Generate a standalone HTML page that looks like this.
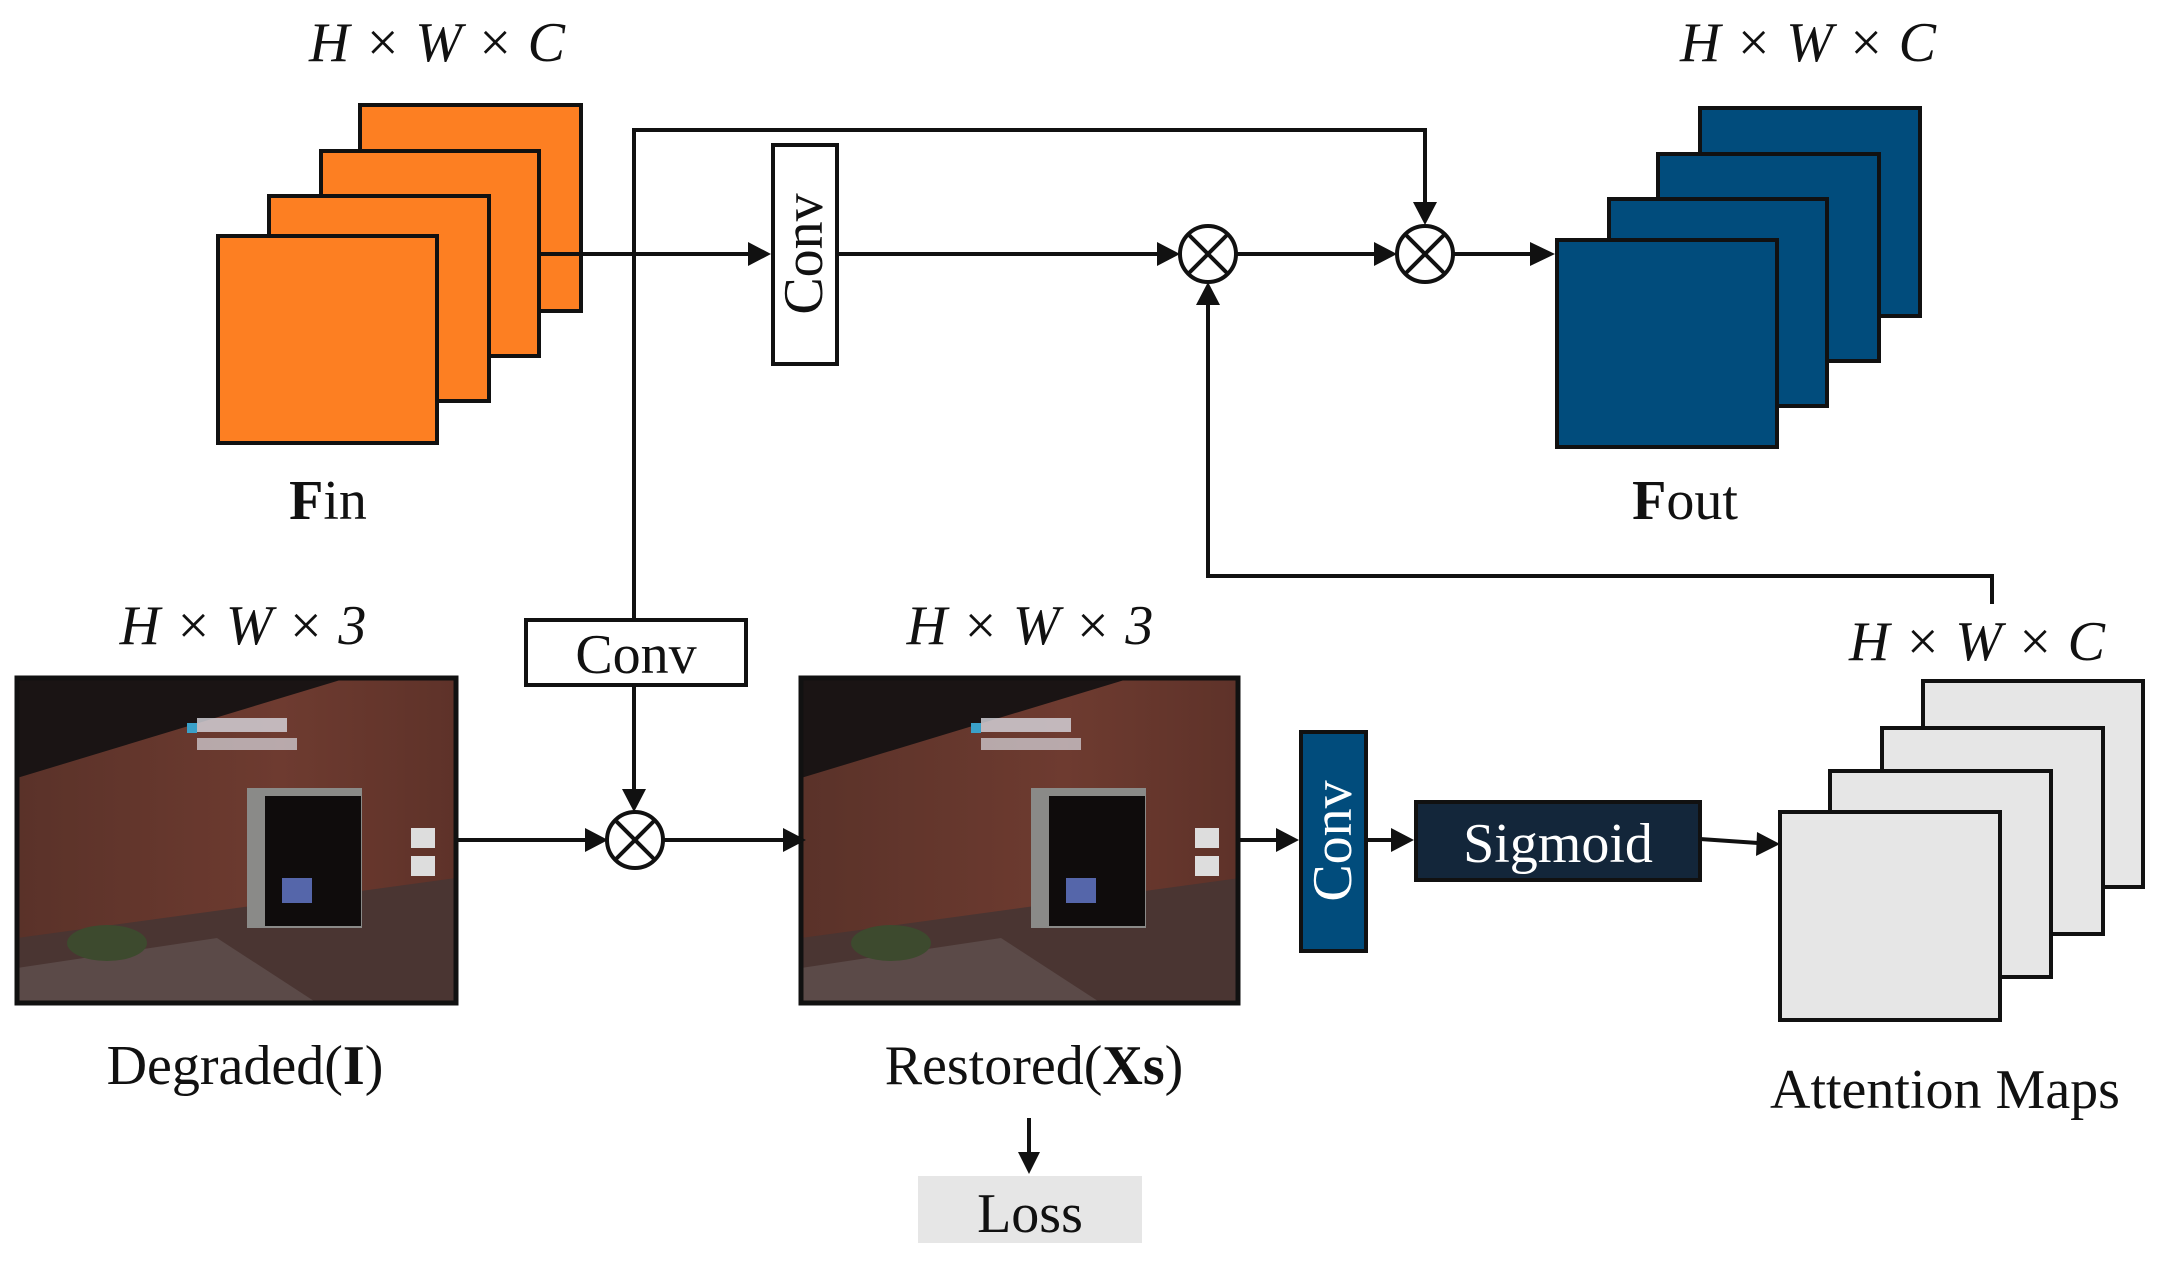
<!DOCTYPE html>
<html><head><meta charset="utf-8"><style>
html,body{margin:0;padding:0;background:#fff;}
svg{display:block;}
text{font-family:"Liberation Serif",serif;fill:#111;}
</style></head><body>
<svg width="2166" height="1262" viewBox="0 0 2166 1262" xmlns="http://www.w3.org/2000/svg">
<defs>
<marker id="ah" markerWidth="10" markerHeight="10" refX="9" refY="5" orient="auto" markerUnits="userSpaceOnUse" viewBox="0 0 10 10">
</marker>
<linearGradient id="wall" x1="0" y1="0" x2="1" y2="0">
<stop offset="0" stop-color="#5a3229"/><stop offset="0.6" stop-color="#6e3b30"/><stop offset="1" stop-color="#5e3229"/>
</linearGradient>
<g id="photo">
<rect x="0" y="0" width="439" height="325" fill="#1a1414"/>
<polygon points="0,100 330,0 439,0 439,325 0,325" fill="url(#wall)"/>
<polygon points="0,260 439,200 439,325 0,325" fill="#4a3532"/>
<polygon points="0,290 200,260 300,325 0,325" fill="#5b4a48"/>
<ellipse cx="90" cy="265" rx="40" ry="18" fill="#3d4a2e"/>
<rect x="230" y="110" width="115" height="140" fill="#8a8a88"/>
<rect x="248" y="118" width="96" height="130" fill="#0f0c0c"/>
<rect x="394" y="150" width="24" height="20" fill="#ddd"/>
<rect x="394" y="178" width="24" height="20" fill="#ddd"/>
<rect x="180" y="40" width="90" height="14" fill="#d8d8e0" opacity="0.8"/>
<rect x="180" y="60" width="100" height="12" fill="#d8d8e0" opacity="0.7"/>
<rect x="170" y="45" width="10" height="10" fill="#3aa0c8"/>
<rect x="265" y="200" width="30" height="25" fill="#5566aa"/>
</g>
</defs>

<g stroke="#111" stroke-width="4">
<!-- Fin orange stack -->
<rect x="360" y="105" width="221" height="206" fill="#fd7f22"/>
<rect x="321" y="151" width="218" height="205" fill="#fd7f22"/>
<rect x="269" y="196" width="220" height="205" fill="#fd7f22"/>
<rect x="218" y="236" width="219" height="207" fill="#fd7f22"/>
<!-- Fout blue stack -->
<rect x="1700" y="108" width="220" height="208" fill="#014c7c"/>
<rect x="1658" y="154" width="221" height="207" fill="#014c7c"/>
<rect x="1609" y="199" width="218" height="207" fill="#014c7c"/>
<rect x="1557" y="240" width="220" height="207" fill="#014c7c"/>
<!-- attention grey stack -->
<rect x="1923" y="681" width="220" height="206" fill="#e6e6e6"/>
<rect x="1882" y="728" width="221" height="206" fill="#e6e6e6"/>
<rect x="1830" y="771" width="221" height="206" fill="#e6e6e6"/>
<rect x="1780" y="812" width="220" height="208" fill="#e6e6e6"/>
</g>

<!-- photos -->
<g transform="translate(17,678)"><use href="#photo"/></g>
<rect x="17" y="678" width="439" height="325" fill="none" stroke="#111" stroke-width="5"/>
<g transform="translate(801,678)"><use href="#photo"/></g>
<rect x="801" y="678" width="437" height="325" fill="none" stroke="#111" stroke-width="5"/>

<!-- connectors -->
<g stroke="#111" stroke-width="4" fill="none">
<polyline points="634,618 634,130 1425,130 1425,205"/>
<line x1="539" y1="254" x2="750" y2="254"/>
<line x1="837" y1="254" x2="1158" y2="254"/>
<line x1="1236" y1="254" x2="1375" y2="254"/>
<line x1="1454" y1="254" x2="1530" y2="254"/>
<polyline points="1992,604 1992,576 1208,576 1208,302"/>
<line x1="634" y1="685" x2="634" y2="790"/>
<line x1="456" y1="840" x2="585" y2="840"/>
<line x1="663" y1="840" x2="785" y2="840"/>
<line x1="1238" y1="840" x2="1278" y2="840"/>
<line x1="1366" y1="840" x2="1394" y2="840"/>
<line x1="1700" y1="839" x2="1758" y2="843"/>
<line x1="1029" y1="1118" x2="1029" y2="1155"/>
</g>
<!-- arrowheads -->
<g fill="#111">
<polygon points="771,254 748,242 748,266"/>
<polygon points="1180,254 1157,242 1157,266"/>
<polygon points="1397,254 1374,242 1374,266"/>
<polygon points="1555,254 1530,242 1530,266"/>
<polygon points="1425,225 1413,202 1437,202"/>
<polygon points="1208,282 1196,305 1220,305"/>
<polygon points="634,812 622,789 646,789"/>
<polygon points="608,840 585,828 585,852"/>
<polygon points="806,840 783,828 783,852"/>
<polygon points="1299,840 1276,828 1276,852"/>
<polygon points="1414,840 1391,828 1391,852"/>
<polygon points="1780,844 1757,832 1756,856"/>
<polygon points="1029,1174 1018,1152 1040,1152"/>
</g>
<!-- multiply circles -->
<g stroke="#111" stroke-width="4" fill="#fff">
<circle cx="1208" cy="254" r="28"/>
<circle cx="1425" cy="254" r="28"/>
<circle cx="635" cy="840" r="28"/>
</g>
<g stroke="#111" stroke-width="4">
<line x1="1188" y1="234" x2="1228" y2="274"/><line x1="1228" y1="234" x2="1188" y2="274"/>
<line x1="1405" y1="234" x2="1445" y2="274"/><line x1="1445" y1="234" x2="1405" y2="274"/>
<line x1="615" y1="820" x2="655" y2="860"/><line x1="655" y1="820" x2="615" y2="860"/>
</g>

<!-- boxes -->
<rect x="773" y="145" width="64" height="219" fill="#fff" stroke="#111" stroke-width="4"/>
<text transform="translate(822,254) rotate(-90)" font-size="56" text-anchor="middle">Conv</text>
<rect x="526" y="620" width="220" height="65" fill="#fff" stroke="#111" stroke-width="4"/>
<text x="636" y="673" font-size="56" text-anchor="middle">Conv</text>
<rect x="1301" y="732" width="65" height="219" fill="#014c7c" stroke="#111" stroke-width="4"/>
<text transform="translate(1351,841) rotate(-90)" font-size="56" text-anchor="middle" style="fill:#fff">Conv</text>
<rect x="1416" y="802" width="284" height="78" fill="#13263a" stroke="#111" stroke-width="4"/>
<text x="1558" y="862" font-size="56" text-anchor="middle" style="fill:#fff">Sigmoid</text>
<rect x="918" y="1176" width="224" height="67" fill="#e6e6e6"/>
<text x="1030" y="1232" font-size="56" text-anchor="middle">Loss</text>

<!-- labels -->
<g font-size="56" font-style="italic" text-anchor="middle">
<text x="437" y="61">H × W × C</text>
<text x="1808" y="61">H × W × C</text>
<text x="243" y="644">H × W × 3</text>
<text x="1030" y="644">H × W × 3</text>
<text x="1977" y="660">H × W × C</text>
</g>
<g font-size="56" text-anchor="middle">
<text x="328" y="519"><tspan font-weight="bold">F</tspan>in</text>
<text x="1685" y="519"><tspan font-weight="bold">F</tspan>out</text>
<text x="245" y="1084">Degraded(<tspan font-weight="bold">I</tspan>)</text>
<text x="1034" y="1084">Restored(<tspan font-weight="bold">Xs</tspan>)</text>
<text x="1945" y="1108">Attention Maps</text>
</g>
</svg>
</body></html>
